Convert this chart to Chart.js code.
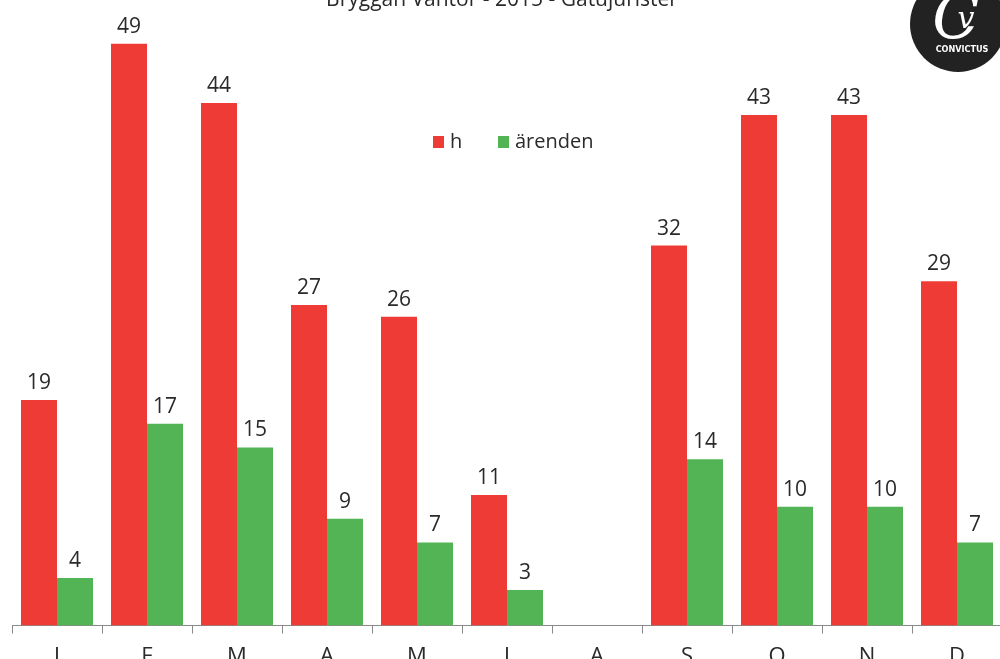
<!DOCTYPE html>
<html>
<head>
<meta charset="utf-8">
<script src="https://cdn.jsdelivr.net/npm/chart.js@4.4.0/dist/chart.umd.min.js"></script>
<style>
  html, body { margin: 0; padding: 0; background: #fff; }
  #wrap { position: relative; width: 1000px; height: 659px; overflow: hidden; }
  #box { position: absolute; left: 0; top: 0; width: 1030px; height: 680px; }
</style>
</head>
<body>
<div id="wrap"><div id="box"><canvas id="chart"></canvas></div></div>
<script>
const titleText = 'Bryggan Vantör - 2015 - Gatujurister';
const months = ['J', 'F', 'M', 'A', 'M', 'J', 'A', 'S', 'O', 'N', 'D'];
const hours = [19, 49, 44, 27, 26, 11, null, 32, 43, 43, 29];
const cases = [4, 17, 15, 9, 7, 3, null, 14, 10, 10, 7];

const red = '#EE3B36';
const green = '#52B455';

// title, logo, legend and value labels drawn on top of the chart
const extras = {
    id: 'extras',
    afterDraw(chart) {
        const ctx = chart.ctx;
        ctx.save();

        // value labels
        ctx.fillStyle = '#2a2a2a';
        ctx.font = '21px "Open Sans", sans-serif';
        ctx.textAlign = 'center';
        ctx.textBaseline = 'alphabetic';
        chart.data.datasets.forEach((ds, i) => {
            chart.getDatasetMeta(i).data.forEach((bar, j) => {
                if (ds.data[j] == null) return;
                ctx.fillText(ds.data[j], bar.x, bar.y - 11);
            });
        });

        // title (cut off at the top)
        ctx.font = '21px "Open Sans", sans-serif';
        ctx.fillText(titleText, 502, 6);

        // legend
        ctx.textAlign = 'left';
        ctx.textBaseline = 'middle';
        ctx.font = '20px "Open Sans", sans-serif';
        let x = 433;
        chart.data.datasets.forEach(ds => {
            ctx.fillStyle = ds.backgroundColor;
            ctx.fillRect(x, 136, 11, 12);
            ctx.fillStyle = '#2a2a2a';
            ctx.fillText(ds.label, x + 17, 142);
            x += 65;
        });

        // logo
        ctx.fillStyle = '#222';
        ctx.beginPath();
        ctx.arc(958, 24, 48, 0, Math.PI * 2);
        ctx.fill();
        ctx.fillStyle = '#fff';
        ctx.textAlign = 'center';
        ctx.textBaseline = 'alphabetic';
        ctx.font = 'italic 62px "DejaVu Serif", serif';
        ctx.fillText('C', 956, 38);
        ctx.font = 'italic 30px "DejaVu Serif", serif';
        ctx.fillText('v', 966, 28);
        ctx.font = 'bold 9px "DejaVu Sans Condensed", "DejaVu Sans", sans-serif';
        ctx.fillText('CONVICTUS', 962, 52);

        ctx.restore();
    }
};

new Chart(document.getElementById('chart'), {
    type: 'bar',
    data: {
        labels: months,
        datasets: [
            { label: 'h', data: hours, backgroundColor: red },
            { label: 'ärenden', data: cases, backgroundColor: green }
        ]
    },
    options: {
        responsive: true,
        maintainAspectRatio: false,
        animation: false,
        layout: { padding: { left: 12, right: 28, top: 8, bottom: 0 } },
        datasets: {
            bar: { categoryPercentage: 0.8, barPercentage: 1.0 }
        },
        plugins: {
            legend: { display: false },
            title: { display: false },
            tooltip: { enabled: false }
        },
        scales: {
            x: {
                grid: {
                    display: true,
                    drawOnChartArea: false,
                    tickLength: 8,
                    color: '#8a8a8a'
                },
                border: { color: '#8a8a8a' },
                ticks: {
                    color: '#2a2a2a',
                    padding: 10,
                    font: { size: 22, family: '"Open Sans", sans-serif' }
                }
            },
            y: {
                display: false,
                min: 0,
                max: 52
            }
        }
    },
    plugins: [extras]
});
</script>
</body>
</html>
